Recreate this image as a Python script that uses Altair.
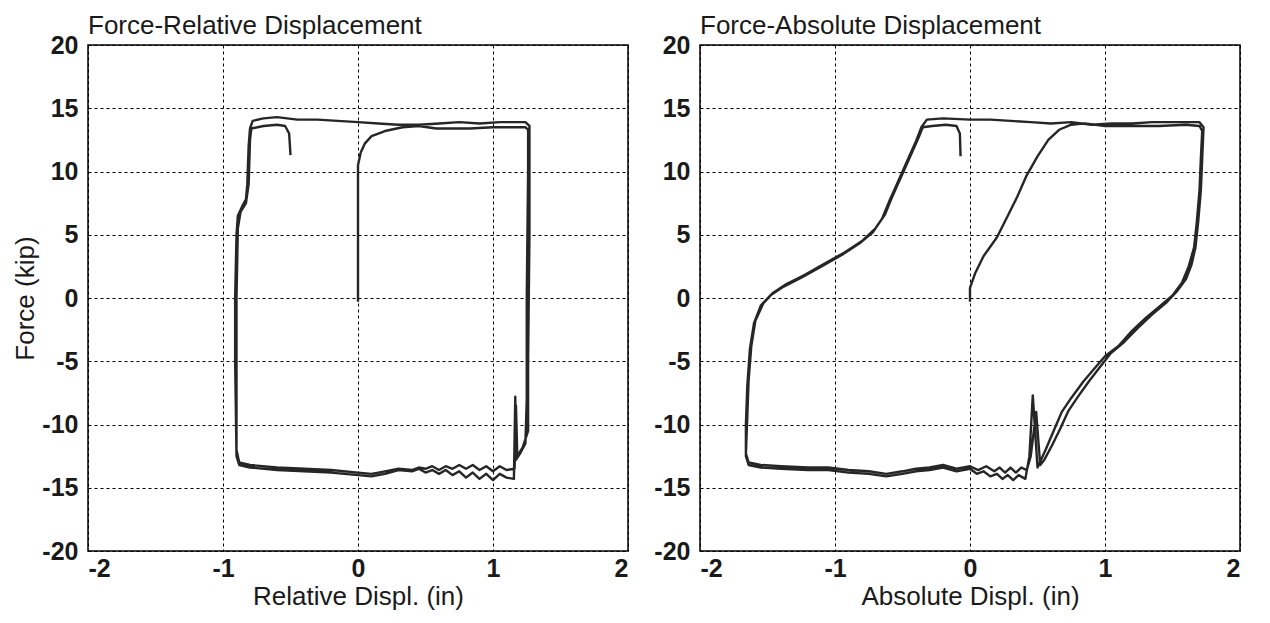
import altair as alt
import pandas as pd

# ---------------- Left panel: Force vs Relative Displacement ----------------
rel_x = [
    0.00, 0.00, 0.00, 0.00, 0.02, 0.05, 0.10, 0.20, 0.33, 0.45, 0.58, 0.70, 0.83, 1.00, 1.15, 1.24,
    1.26, 1.26, 1.25, 1.25, 1.24, 1.20, 1.17, 1.165, 1.155,
    1.10, 1.05, 1.00, 0.95, 0.90, 0.85, 0.80, 0.75, 0.70, 0.65, 0.60, 0.55, 0.50, 0.45, 0.40, 0.30,
    0.20, 0.10, 0.00, -0.20, -0.40, -0.60, -0.80, -0.88,
    -0.90, -0.91, -0.91, -0.90, -0.89, -0.86, -0.83, -0.82, -0.81, -0.80, -0.78,
    -0.70, -0.60, -0.45, -0.30, -0.15, 0.00, 0.15, 0.30, 0.45, 0.60, 0.75, 0.90, 1.05, 1.24,
    1.27, 1.27, 1.26, 1.26, 1.22, 1.18, 1.17, 1.16,
    1.10, 1.05, 1.00, 0.95, 0.90, 0.85, 0.80, 0.75, 0.70, 0.65, 0.60, 0.55, 0.50, 0.45, 0.40, 0.30,
    0.20, 0.10, 0.00, -0.20, -0.40, -0.60, -0.80, -0.88,
    -0.90, -0.90, -0.89, -0.87, -0.83, -0.81, -0.80, -0.79,
    -0.70, -0.60, -0.54, -0.51, -0.50,
]
rel_f = [
    -0.3, 3.0, 7.0, 10.5, 11.5, 12.2, 12.8, 13.2, 13.5, 13.6, 13.4, 13.4, 13.4, 13.5, 13.5, 13.5,
    13.3, 10.0, 0.0, -8.0, -11.5, -12.3, -12.8, -7.8, -14.3,
    -14.2, -13.9, -14.4, -13.9, -14.3, -13.8, -14.2, -13.7, -14.0, -13.6, -13.9, -13.6, -13.8, -13.5, -13.7, -13.6,
    -13.9, -14.1, -14.0, -13.8, -13.7, -13.6, -13.4, -13.2,
    -12.5, -5.0, 0.0, 5.0, 6.5, 7.2, 7.8, 9.0, 12.0, 13.4, 14.0,
    14.2, 14.3, 14.1, 14.1, 14.0, 13.9, 13.8, 13.7, 13.7, 13.8, 13.9, 13.8, 13.9, 13.9,
    13.6, 5.0, -5.0, -10.5, -11.8, -12.5, -8.5, -13.5,
    -13.6, -13.3, -13.7, -13.3, -13.6, -13.2, -13.5, -13.2, -13.5, -13.3, -13.6, -13.3, -13.5, -13.4, -13.6, -13.5,
    -13.7, -13.9, -13.8, -13.6, -13.5, -13.4, -13.2, -13.0,
    -12.0, 0.0, 5.5, 6.8, 7.5, 9.0, 12.5, 13.4,
    13.6, 13.7, 13.6, 13.0, 11.3,
]

# ---------------- Right panel: Force vs Absolute Displacement ----------------
abs_x = [
    0.00, 0.00, 0.04, 0.10, 0.20, 0.28, 0.35, 0.42, 0.50, 0.58, 0.66, 0.75, 0.85, 1.00, 1.20, 1.40, 1.60, 1.70,
    1.72, 1.71, 1.70, 1.68, 1.66, 1.62, 1.57, 1.50, 1.40, 1.30, 1.20, 1.10, 1.00, 0.92, 0.84, 0.75, 0.68,
    0.62, 0.56, 0.50, 0.465, 0.44, 0.41,
    0.36, 0.32, 0.28, 0.24, 0.20, 0.15, 0.10, 0.05, 0.00, -0.10, -0.20, -0.30, -0.40, -0.50, -0.62, -0.75,
    -0.90, -1.05, -1.20, -1.40, -1.55, -1.64,
    -1.66, -1.66, -1.65, -1.63, -1.60, -1.55, -1.48, -1.38, -1.25, -1.10, -0.95, -0.82, -0.72, -0.65, -0.60,
    -0.55, -0.50, -0.45, -0.40, -0.36, -0.32,
    -0.20, 0.00, 0.15, 0.30, 0.45, 0.60, 0.75, 0.90, 1.05, 1.20, 1.35, 1.50, 1.70,
    1.73, 1.72, 1.71, 1.69, 1.67, 1.64, 1.60, 1.53, 1.45, 1.35, 1.24, 1.14, 1.04, 0.96, 0.88, 0.80, 0.73,
    0.67, 0.61, 0.55, 0.52, 0.49, 0.45, 0.42,
    0.38, 0.34, 0.30, 0.26, 0.22, 0.18, 0.12, 0.06, 0.00, -0.10, -0.20, -0.30, -0.40, -0.50, -0.62, -0.75,
    -0.90, -1.05, -1.20, -1.40, -1.55, -1.64,
    -1.66, -1.65, -1.64, -1.62, -1.59, -1.53, -1.46, -1.36, -1.23, -1.08, -0.93, -0.80, -0.70, -0.63, -0.58,
    -0.53, -0.48, -0.43, -0.38, -0.35,
    -0.28, -0.18, -0.10, -0.075, -0.07,
]
abs_f = [
    -0.3, 0.8, 2.0, 3.3, 4.8, 6.5, 8.0, 9.7, 11.2, 12.5, 13.3, 13.7, 13.8, 13.6, 13.6, 13.6, 13.7, 13.6,
    13.2, 11.0, 8.5, 6.0, 4.0, 2.5, 1.2, 0.2, -0.7, -1.6, -2.6, -3.8, -4.6, -5.6, -6.6, -7.9, -9.0,
    -10.5, -12.0, -13.4, -7.7, -12.5, -14.3,
    -14.0, -14.4, -14.0, -14.3, -13.9, -14.1, -13.7, -13.9, -13.5, -13.7, -13.4, -13.6, -13.7, -13.9, -14.1, -13.9,
    -13.8, -13.6, -13.6, -13.5, -13.4, -13.2,
    -12.5, -10.0, -7.0, -4.0, -2.0, -0.6, 0.2, 0.9, 1.6, 2.5, 3.4, 4.3, 5.2, 6.3, 7.6,
    8.8, 10.0, 11.2, 12.4, 13.5, 14.1,
    14.2, 14.1, 14.1, 14.0, 13.9, 13.8, 13.9, 13.7, 13.8, 13.8, 13.9, 13.9, 13.9,
    13.5, 11.0, 8.5, 6.0, 4.0, 2.6, 1.5, 0.5, -0.4, -1.3, -2.4, -3.5, -4.4, -5.5, -6.6, -7.8, -8.9,
    -10.3, -11.6, -12.8, -13.2, -9.0, -12.5, -13.6,
    -13.4, -13.8, -13.4, -13.8, -13.4, -13.7, -13.3, -13.6, -13.3, -13.5, -13.2, -13.4, -13.5, -13.7, -13.9, -13.7,
    -13.6, -13.4, -13.4, -13.3, -13.2, -13.0,
    -12.3, -9.5, -6.5, -3.8, -1.8, -0.4, 0.4, 1.1, 1.8, 2.7, 3.6, 4.5, 5.5, 6.6, 7.9,
    9.1, 10.3, 11.5, 12.7, 13.5,
    13.6, 13.7, 13.6, 13.0, 11.2,
]

x_ticks = [-2, -1, 0, 1, 2]
y_ticks = [-20, -15, -10, -5, 0, 5, 10, 15, 20]

FONT = "Liberation Sans"
INK = "#1a1a1a"


def panel(xs, fs, title, xtitle, ytitle):
    df = pd.DataFrame({"x": xs, "f": fs, "i": list(range(len(xs)))})
    return (
        alt.Chart(df)
        .mark_line(color="#262626", strokeWidth=2.4, strokeJoin="round")
        .encode(
            x=alt.X("x:Q", scale=alt.Scale(domain=[-2, 2], nice=False, zero=False),
                    axis=alt.Axis(values=x_ticks, title=xtitle, labelExpr="'' + datum.value")),
            y=alt.Y("f:Q", scale=alt.Scale(domain=[-20, 20], nice=False, zero=False),
                    axis=alt.Axis(values=y_ticks, title=ytitle, labelExpr="'' + datum.value")),
            order="i:Q",
        )
        .properties(
            width=540,
            height=506,
            title=alt.TitleParams(title, anchor="start", frame="group", font=FONT,
                                  fontSize=26, fontWeight="normal", color=INK, offset=-6),
        )
    )


left = panel(rel_x, rel_f, "Force-Relative Displacement", "Relative Displ. (in)", "Force (kip)")
right = panel(abs_x, abs_f, "Force-Absolute Displacement", "Absolute Displ. (in)", None)

chart = (
    alt.hconcat(left, right, spacing=72, bounds="flush",
                padding={"left": 4, "top": 4, "right": 4, "bottom": 3})
    .configure_view(stroke="black", strokeWidth=1.5)
    .configure_axis(
        labelFont=FONT, labelFontSize=25, labelFontWeight="bold", labelColor=INK,
        titleFont=FONT, titleFontSize=26, titleFontWeight="normal", titleColor=INK,
        ticks=False, domain=False,
        grid=True, gridColor="black", gridDash=[3, 3], gridWidth=1, gridOpacity=1,
    )
    .configure_axisX(labelPadding=5, titlePadding=2)
    .configure_axisY(labelPadding=10, titlePadding=3)
)

chart.save("out.html", embed_options={"renderer": "svg", "actions": False})
